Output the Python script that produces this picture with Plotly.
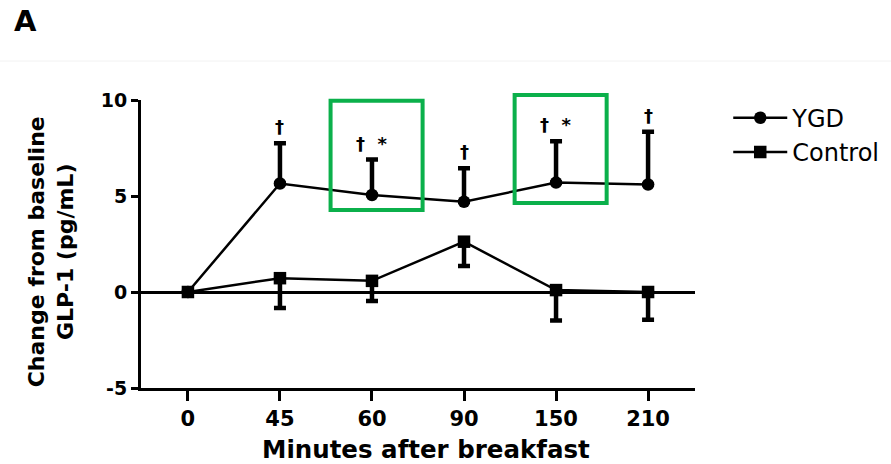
import plotly.graph_objects as go

# ---- data ----
minutes = ["0", "45", "60", "90", "150", "210"]
ygd_mean = [0.0, 5.65, 5.05, 4.70, 5.70, 5.60]
ygd_err_up = [0.0, 2.10, 1.85, 1.75, 2.15, 2.75]
ctrl_mean = [0.0, 0.72, 0.58, 2.62, 0.10, 0.00]
ctrl_err_down = [0.0, 1.55, 1.05, 1.26, 1.59, 1.44]
sig_labels = ["", "†", "† &nbsp;*", "†", "† &nbsp;*", "†"]
highlight = ["60", "150"]
y_ticks = [-5, 0, 5, 10]
x_title = "Minutes after breakfast"
y_title = "Change from baseline<br>GLP-1 (pg/mL)"

BOLD = "DejaVu Sans"
GREEN = "#0BB04B"

fig = go.Figure()
fig.add_trace(go.Scatter(
    x=minutes, y=ygd_mean, name="YGD", mode="lines+markers",
    line=dict(color="black", width=2.5),
    marker=dict(symbol="circle", size=12.5, color="black"),
    error_y=dict(type="data", symmetric=False, array=ygd_err_up,
                 arrayminus=[0] * len(ygd_err_up),
                 color="black", thickness=4.5, width=6),
))
fig.add_trace(go.Scatter(
    x=minutes, y=ctrl_mean, name="Control", mode="lines+markers",
    line=dict(color="black", width=2.5),
    marker=dict(symbol="square", size=12.5, color="black"),
    error_y=dict(type="data", symmetric=False, array=[0] * len(ctrl_err_down),
                 arrayminus=ctrl_err_down,
                 color="black", thickness=4.5, width=6),
))

# significance labels (category index positions)
for i, lab in enumerate(sig_labels):
    if lab:
        fig.add_annotation(
            x=i, xref="x", y=ygd_mean[i] + ygd_err_up[i], yref="y",
            text="<b>" + lab + "</b>",
            showarrow=False, yanchor="bottom", yshift=4,
            font=dict(family=BOLD, size=18, color="black"),
        )

# axis titles
fig.add_annotation(x=0.514, y=-0.212, xref="paper", yref="paper",
                   text="<b>" + x_title + "</b>", showarrow=False,
                   xanchor="center", yanchor="middle",
                   font=dict(family=BOLD, size=24.5, color="black"))
fig.add_annotation(x=-0.162, y=0.472, xref="paper", yref="paper",
                   text="<b>" + y_title + "</b>", showarrow=False, textangle=-90,
                   xanchor="center", yanchor="middle",
                   font=dict(family=BOLD, size=22, color="black"))

# green highlight boxes
box_y = {"60": (0.618, 0.997), "150": (0.642, 1.017)}
for cat in highlight:
    idx = minutes.index(cat)
    y0, y1 = box_y[cat]
    fig.add_shape(type="rect", xref="x", yref="paper",
                  x0=idx - 0.45, x1=idx + 0.55, y0=y0, y1=y1,
                  line=dict(color=GREEN, width=4), layer="above")

# faint separator line near top
fig.add_shape(type="line", xref="paper", yref="paper",
              x0=-0.26, x1=1.36, y0=(388 - 61) / 288, y1=(388 - 61) / 288,
              line=dict(color="#f2f2f2", width=1))

fig.update_layout(
    width=891, height=464,
    margin=dict(l=141, r=196, t=100, b=76, autoexpand=False),
    paper_bgcolor="white", plot_bgcolor="white",
    title=dict(text="<b>A</b>", x=14 / 891, xanchor="left", xref="container",
               y=1 - 21 / 464, yanchor="middle", yref="container",
               font=dict(family=BOLD, size=29, color="black")),
    showlegend=True,
    legend=dict(x=1.06, xanchor="left", y=1.015, yanchor="top",
                font=dict(family="DejaVu Sans", size=24, color="black"),
                itemwidth=54, bgcolor="rgba(0,0,0,0)", tracegroupgap=0),
    font=dict(family=BOLD, color="black"),
)

fig.update_xaxes(
    type="category", range=[-0.51, 5.51], automargin=False,
    showline=True, linecolor="black", linewidth=3,
    ticks="outside", ticklen=10, tickwidth=3, tickcolor="black",
    showgrid=False, zeroline=False,
    tickfont=dict(family=BOLD, size=21, color="black"),
    tickprefix="<b>", ticksuffix="</b>",
)
fig.update_yaxes(
    range=[-5, 10], tickvals=y_ticks, ticktext=["<b>%d</b>" % v for v in y_ticks],
    automargin=False,
    showline=True, linecolor="black", linewidth=3,
    ticks="outside", ticklen=7, tickwidth=3, tickcolor="black",
    showgrid=False, zeroline=True, zerolinecolor="black", zerolinewidth=2.5,
    tickfont=dict(family=BOLD, size=19, color="black"),
)

fig.write_html("out.html")
